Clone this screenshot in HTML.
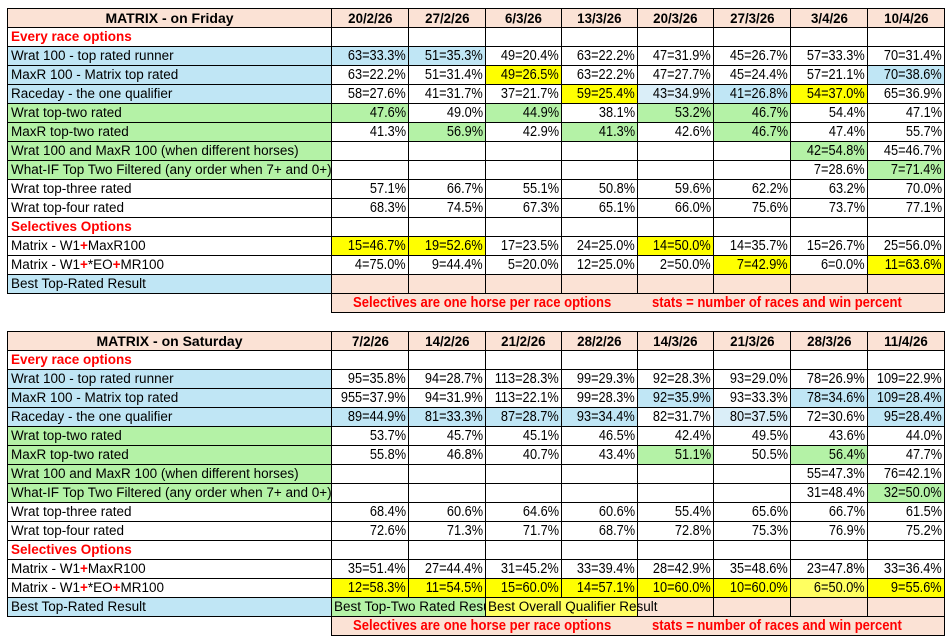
<!DOCTYPE html>
<html><head><meta charset="utf-8">
<style>
html,body{margin:0;padding:0;background:#fff;width:950px;height:642px;overflow:hidden}
body{position:relative;font-family:"Liberation Sans",sans-serif;color:#000}
table{position:absolute;left:7px;border-collapse:collapse;table-layout:fixed;width:937px}
td{height:18px;border:1px solid #000;padding:0;font-size:14.5px;line-height:18px;white-space:nowrap;overflow:hidden}
td.l{padding-left:3px;font-size:13.5px}
td.n{text-align:right;padding-right:2px}
td i{display:inline-block;font-style:normal;transform:scaleX(.88);transform-origin:right center}
tr.h td{background:#fbe2d5;font-weight:bold;text-align:center;font-size:14px}
tr.h td i.d{transform:scaleX(.95);transform-origin:center}
.r{color:#ff0000;font-weight:bold}
.p{color:#ff0000;font-weight:bold}
.b{background:#c0e6f5}
.pb{background:#daeef8}
.g{background:#b4f2a6}
.y{background:#ffff00}
.y2{background:#ffff60}
.pe{background:#fbe2d5}
td.nb{border:none;border-top:1px solid #000}
td.f{background:#fbe2d5;position:relative;color:#ff0000;font-weight:bold;font-size:15px}
td.f span{position:absolute;top:0;display:inline-block;transform:scaleX(.87);transform-origin:left center}
td.ov{overflow:visible;padding-left:2px;font-size:13.5px}
</style></head><body>

<table style="top:8px">
<colgroup><col style="width:324px"><col style="width:77px"><col style="width:77px"><col style="width:76px"><col style="width:76px"><col style="width:76px"><col style="width:77px"><col style="width:77px"><col style="width:77px"></colgroup>
<tr class="h"><td>MATRIX - on Friday</td><td><i class="d">20/2/26</i></td><td><i class="d">27/2/26</i></td><td><i class="d">6/3/26</i></td><td><i class="d">13/3/26</i></td><td><i class="d">20/3/26</i></td><td><i class="d">27/3/26</i></td><td><i class="d">3/4/26</i></td><td><i class="d">10/4/26</i></td></tr>
<tr><td class="l r">Every race options</td><td></td><td></td><td></td><td></td><td></td><td></td><td></td><td></td></tr>
<tr><td class="l b">Wrat 100 - top rated runner</td><td class="n b"><i>63=33.3%</i></td><td class="n b"><i>51=35.3%</i></td><td class="n"><i>49=20.4%</i></td><td class="n"><i>63=22.2%</i></td><td class="n"><i>47=31.9%</i></td><td class="n"><i>45=26.7%</i></td><td class="n"><i>57=33.3%</i></td><td class="n"><i>70=31.4%</i></td></tr>
<tr><td class="l b">MaxR 100 - Matrix top rated</td><td class="n"><i>63=22.2%</i></td><td class="n"><i>51=31.4%</i></td><td class="n y"><i>49=26.5%</i></td><td class="n"><i>63=22.2%</i></td><td class="n"><i>47=27.7%</i></td><td class="n"><i>45=24.4%</i></td><td class="n"><i>57=21.1%</i></td><td class="n b"><i>70=38.6%</i></td></tr>
<tr><td class="l b">Raceday - the one qualifier</td><td class="n"><i>58=27.6%</i></td><td class="n"><i>41=31.7%</i></td><td class="n"><i>37=21.7%</i></td><td class="n y"><i>59=25.4%</i></td><td class="n pb"><i>43=34.9%</i></td><td class="n b"><i>41=26.8%</i></td><td class="n y"><i>54=37.0%</i></td><td class="n"><i>65=36.9%</i></td></tr>
<tr><td class="l g">Wrat top-two rated</td><td class="n g"><i>47.6%</i></td><td class="n"><i>49.0%</i></td><td class="n g"><i>44.9%</i></td><td class="n"><i>38.1%</i></td><td class="n g"><i>53.2%</i></td><td class="n g"><i>46.7%</i></td><td class="n"><i>54.4%</i></td><td class="n"><i>47.1%</i></td></tr>
<tr><td class="l g">MaxR top-two rated</td><td class="n"><i>41.3%</i></td><td class="n g"><i>56.9%</i></td><td class="n"><i>42.9%</i></td><td class="n g"><i>41.3%</i></td><td class="n"><i>42.6%</i></td><td class="n g"><i>46.7%</i></td><td class="n"><i>47.4%</i></td><td class="n"><i>55.7%</i></td></tr>
<tr><td class="l g">Wrat 100 and MaxR 100 (when different horses)</td><td></td><td></td><td></td><td></td><td></td><td></td><td class="n g"><i>42=54.8%</i></td><td class="n"><i>45=46.7%</i></td></tr>
<tr><td class="l g">What-IF Top Two Filtered (any order when 7+ and 0+)</td><td></td><td></td><td></td><td></td><td></td><td></td><td class="n"><i>7=28.6%</i></td><td class="n g"><i>7=71.4%</i></td></tr>
<tr><td class="l">Wrat top-three rated</td><td class="n"><i>57.1%</i></td><td class="n"><i>66.7%</i></td><td class="n"><i>55.1%</i></td><td class="n"><i>50.8%</i></td><td class="n"><i>59.6%</i></td><td class="n"><i>62.2%</i></td><td class="n"><i>63.2%</i></td><td class="n"><i>70.0%</i></td></tr>
<tr><td class="l">Wrat top-four rated</td><td class="n"><i>68.3%</i></td><td class="n"><i>74.5%</i></td><td class="n"><i>67.3%</i></td><td class="n"><i>65.1%</i></td><td class="n"><i>66.0%</i></td><td class="n"><i>75.6%</i></td><td class="n"><i>73.7%</i></td><td class="n"><i>77.1%</i></td></tr>
<tr><td class="l r">Selectives Options</td><td></td><td></td><td></td><td></td><td></td><td></td><td></td><td></td></tr>
<tr><td class="l">Matrix - W1<span class="p">+</span>MaxR100</td><td class="n y"><i>15=46.7%</i></td><td class="n y"><i>19=52.6%</i></td><td class="n"><i>17=23.5%</i></td><td class="n"><i>24=25.0%</i></td><td class="n y"><i>14=50.0%</i></td><td class="n"><i>14=35.7%</i></td><td class="n"><i>15=26.7%</i></td><td class="n"><i>25=56.0%</i></td></tr>
<tr><td class="l">Matrix - W1<span class="p">+</span>*EO<span class="p">+</span>MR100</td><td class="n"><i>4=75.0%</i></td><td class="n"><i>9=44.4%</i></td><td class="n"><i>5=20.0%</i></td><td class="n"><i>12=25.0%</i></td><td class="n"><i>2=50.0%</i></td><td class="n y"><i>7=42.9%</i></td><td class="n"><i>6=0.0%</i></td><td class="n y"><i>11=63.6%</i></td></tr>
<tr><td class="l b">Best Top-Rated Result</td><td class="pe"></td><td class="pe"></td><td class="pe"></td><td class="pe"></td><td class="pe"></td><td class="pe"></td><td class="pe"></td><td class="pe"></td></tr>
<tr><td class="nb"></td><td class="f" colspan="8"><span style="left:21px">Selectives are one horse per race options</span><span style="left:320px">stats = number of races and win percent</span></td></tr>
</table>

<table style="top:331px">
<colgroup><col style="width:324px"><col style="width:77px"><col style="width:77px"><col style="width:76px"><col style="width:76px"><col style="width:76px"><col style="width:77px"><col style="width:77px"><col style="width:77px"></colgroup>
<tr class="h"><td>MATRIX - on Saturday</td><td><i class="d">7/2/26</i></td><td><i class="d">14/2/26</i></td><td><i class="d">21/2/26</i></td><td><i class="d">28/2/26</i></td><td><i class="d">14/3/26</i></td><td><i class="d">21/3/26</i></td><td><i class="d">28/3/26</i></td><td><i class="d">11/4/26</i></td></tr>
<tr><td class="l r">Every race options</td><td></td><td></td><td></td><td></td><td></td><td></td><td></td><td></td></tr>
<tr><td class="l b">Wrat 100 - top rated runner</td><td class="n"><i>95=35.8%</i></td><td class="n"><i>94=28.7%</i></td><td class="n"><i>113=28.3%</i></td><td class="n"><i>99=29.3%</i></td><td class="n"><i>92=28.3%</i></td><td class="n"><i>93=29.0%</i></td><td class="n"><i>78=26.9%</i></td><td class="n"><i>109=22.9%</i></td></tr>
<tr><td class="l b">MaxR 100 - Matrix top rated</td><td class="n"><i>955=37.9%</i></td><td class="n"><i>94=31.9%</i></td><td class="n"><i>113=22.1%</i></td><td class="n"><i>99=28.3%</i></td><td class="n b"><i>92=35.9%</i></td><td class="n"><i>93=33.3%</i></td><td class="n b"><i>78=34.6%</i></td><td class="n b"><i>109=28.4%</i></td></tr>
<tr><td class="l b">Raceday - the one qualifier</td><td class="n b"><i>89=44.9%</i></td><td class="n b"><i>81=33.3%</i></td><td class="n b"><i>87=28.7%</i></td><td class="n b"><i>93=34.4%</i></td><td class="n"><i>82=31.7%</i></td><td class="n pb"><i>80=37.5%</i></td><td class="n"><i>72=30.6%</i></td><td class="n b"><i>95=28.4%</i></td></tr>
<tr><td class="l g">Wrat top-two rated</td><td class="n"><i>53.7%</i></td><td class="n"><i>45.7%</i></td><td class="n"><i>45.1%</i></td><td class="n"><i>46.5%</i></td><td class="n"><i>42.4%</i></td><td class="n"><i>49.5%</i></td><td class="n"><i>43.6%</i></td><td class="n"><i>44.0%</i></td></tr>
<tr><td class="l g">MaxR top-two rated</td><td class="n"><i>55.8%</i></td><td class="n"><i>46.8%</i></td><td class="n"><i>40.7%</i></td><td class="n"><i>43.4%</i></td><td class="n g"><i>51.1%</i></td><td class="n"><i>50.5%</i></td><td class="n g"><i>56.4%</i></td><td class="n"><i>47.7%</i></td></tr>
<tr><td class="l g">Wrat 100 and MaxR 100 (when different horses)</td><td></td><td></td><td></td><td></td><td></td><td></td><td class="n"><i>55=47.3%</i></td><td class="n"><i>76=42.1%</i></td></tr>
<tr><td class="l g">What-IF Top Two Filtered (any order when 7+ and 0+)</td><td></td><td></td><td></td><td></td><td></td><td></td><td class="n"><i>31=48.4%</i></td><td class="n g"><i>32=50.0%</i></td></tr>
<tr><td class="l">Wrat top-three rated</td><td class="n"><i>68.4%</i></td><td class="n"><i>60.6%</i></td><td class="n"><i>64.6%</i></td><td class="n"><i>60.6%</i></td><td class="n"><i>55.4%</i></td><td class="n"><i>65.6%</i></td><td class="n"><i>66.7%</i></td><td class="n"><i>61.5%</i></td></tr>
<tr><td class="l">Wrat top-four rated</td><td class="n"><i>72.6%</i></td><td class="n"><i>71.3%</i></td><td class="n"><i>71.7%</i></td><td class="n"><i>68.7%</i></td><td class="n"><i>72.8%</i></td><td class="n"><i>75.3%</i></td><td class="n"><i>76.9%</i></td><td class="n"><i>75.2%</i></td></tr>
<tr><td class="l r">Selectives Options</td><td></td><td></td><td></td><td></td><td></td><td></td><td></td><td></td></tr>
<tr><td class="l">Matrix - W1<span class="p">+</span>MaxR100</td><td class="n"><i>35=51.4%</i></td><td class="n"><i>27=44.4%</i></td><td class="n"><i>31=45.2%</i></td><td class="n"><i>33=39.4%</i></td><td class="n"><i>28=42.9%</i></td><td class="n"><i>35=48.6%</i></td><td class="n"><i>23=47.8%</i></td><td class="n"><i>33=36.4%</i></td></tr>
<tr><td class="l">Matrix - W1<span class="p">+</span>*EO<span class="p">+</span>MR100</td><td class="n y"><i>12=58.3%</i></td><td class="n y"><i>11=54.5%</i></td><td class="n y"><i>15=60.0%</i></td><td class="n y"><i>14=57.1%</i></td><td class="n y"><i>10=60.0%</i></td><td class="n y"><i>10=60.0%</i></td><td class="n y2"><i>6=50.0%</i></td><td class="n y"><i>9=55.6%</i></td></tr>
<tr><td class="l b">Best Top-Rated Result</td><td class="g ov" colspan="2" style="overflow:hidden">Best Top-Two Rated Result</td><td class="y2 ov" colspan="2">Best Overall Qualifier Result</td><td class="pe"></td><td class="pe"></td><td class="pe"></td><td class="pe"></td></tr>
<tr><td class="nb"></td><td class="f" colspan="8"><span style="left:21px">Selectives are one horse per race options</span><span style="left:320px">stats = number of races and win percent</span></td></tr>
</table>
</body></html>
